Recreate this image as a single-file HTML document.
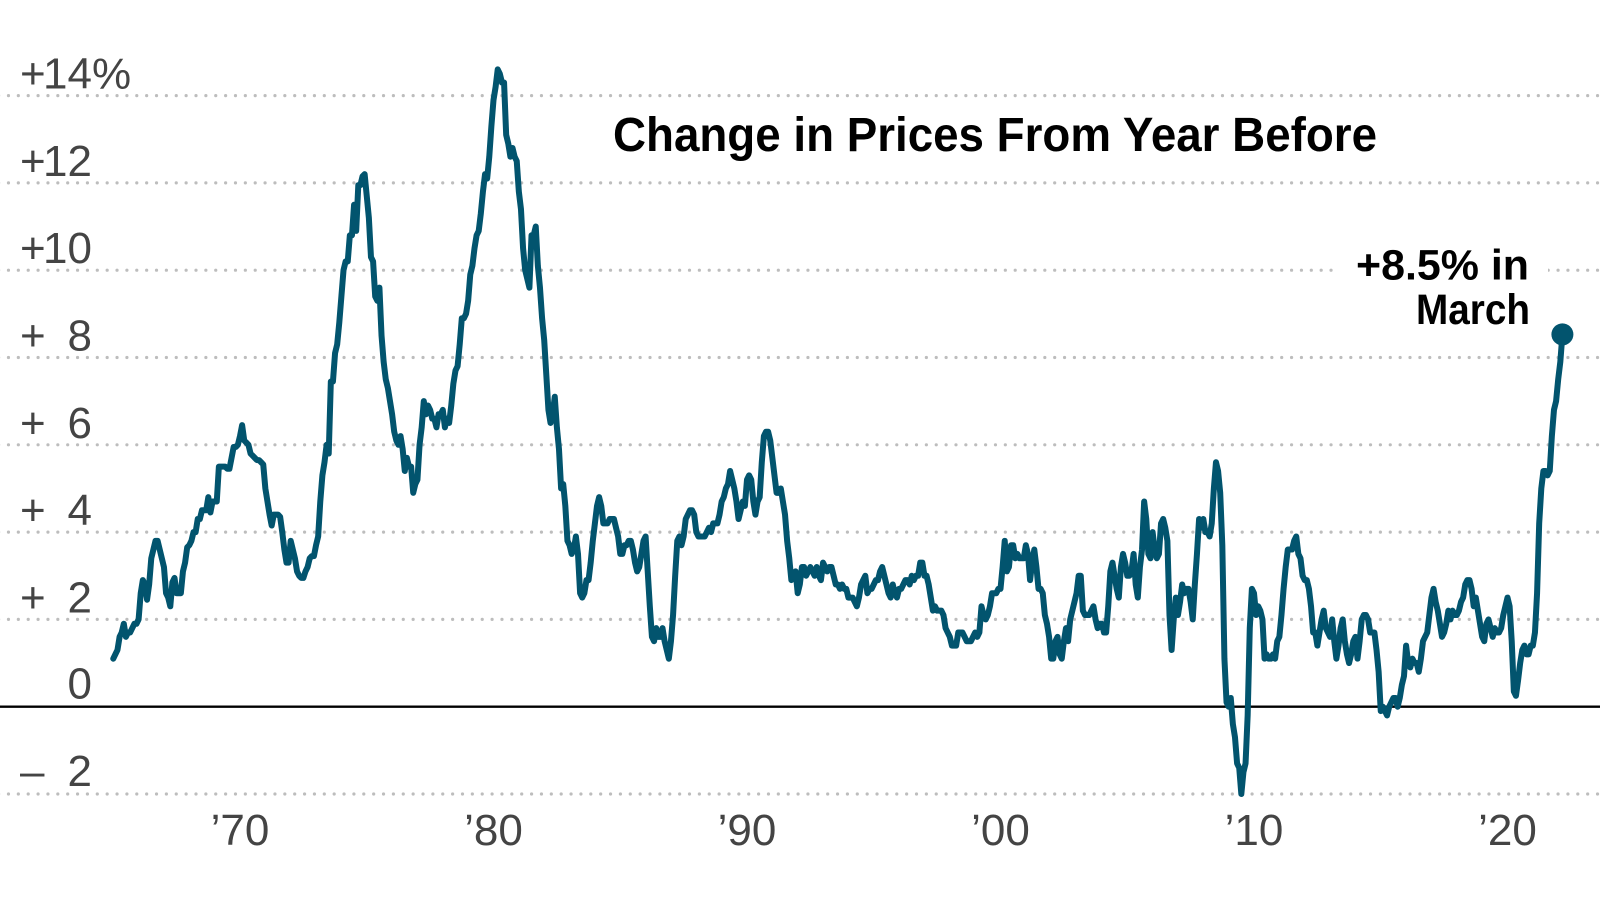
<!DOCTYPE html>
<html>
<head>
<meta charset="utf-8">
<style>
  html, body { margin: 0; padding: 0; background: #fff; }
  body { width: 1600px; height: 901px; overflow: hidden; }
  svg { display: block; }
  .ax { font-family: "Liberation Sans", Arial, sans-serif; font-size: 44px; fill: #444; }
  .bold { font-family: "Liberation Sans", Arial, sans-serif; font-weight: bold; fill: #000; }
</style>
</head>
<body>
<svg width="1600" height="901" viewBox="0 0 1600 901" xmlns="http://www.w3.org/2000/svg">
  <rect x="0" y="0" width="1600" height="901" fill="#fff"/>

  <g stroke="#bdbdbd" stroke-width="3.2" stroke-linecap="round" stroke-dasharray="0 9.87" fill="none">
    <line x1="-1.4" y1="95.6" x2="1600" y2="95.6"/>
    <line x1="-1.4" y1="182.9" x2="1600" y2="182.9"/>
    <line x1="-1.4" y1="270.2" x2="1600" y2="270.2"/>
    <line x1="-1.4" y1="357.5" x2="1600" y2="357.5"/>
    <line x1="-1.4" y1="444.8" x2="1600" y2="444.8"/>
    <line x1="-1.4" y1="532.1" x2="1600" y2="532.1"/>
    <line x1="-1.4" y1="619.4" x2="1600" y2="619.4"/>
    <line x1="-1.4" y1="794.0" x2="1600" y2="794.0"/>
  </g>

  <line x1="0" y1="706.7" x2="1600" y2="706.7" stroke="#000" stroke-width="2.4"/>

  <g class="ax">
    <text x="20" y="88.6">+</text><text x="92" y="88.6" text-anchor="end">14</text><text x="92" y="88.6">%</text>
    <text x="20" y="175.9">+</text><text x="92" y="175.9" text-anchor="end">12</text>
    <text x="20" y="263.2">+</text><text x="92" y="263.2" text-anchor="end">10</text>
    <text x="20" y="350.5">+</text><text x="92" y="350.5" text-anchor="end">8</text>
    <text x="20" y="437.8">+</text><text x="92" y="437.8" text-anchor="end">6</text>
    <text x="20" y="525.1">+</text><text x="92" y="525.1" text-anchor="end">4</text>
    <text x="20" y="612.4">+</text><text x="92" y="612.4" text-anchor="end">2</text>
    <text x="92" y="698.7" text-anchor="end">0</text>
    <text x="20" y="786.0">–</text><text x="92" y="786.0" text-anchor="end">2</text>
  </g>

  <g class="ax" text-anchor="middle">
    <text x="240" y="845">’70</text>
    <text x="493.5" y="845">’80</text>
    <text x="747" y="845">’90</text>
    <text x="1000.5" y="845">’00</text>
    <text x="1254" y="845">’10</text>
    <text x="1507.5" y="845">’20</text>
  </g>

  <text class="bold" x="613" y="151" font-size="48" textLength="764" lengthAdjust="spacingAndGlyphs">Change in Prices From Year Before</text>

  <polyline fill="none" stroke="#02546e" stroke-width="6" stroke-linejoin="round" stroke-linecap="round"
    vector-effect="non-scaling-stroke"
    transform="matrix(2.1125 0 0 -43.65 113.25 706.7)"
    points="0,1.1 1,1.2 2,1.3 3,1.6 4,1.7 5,1.9 6,1.6 7,1.7 8,1.7 9,1.8 10,1.9 11,1.9
12,2.0 13,2.6 14,2.9 15,2.8 16,2.45 17,2.8 18,3.4 19,3.6 20,3.8 21,3.8 22,3.6 23,3.4
24,3.2 25,2.6 26,2.5 27,2.3 28,2.85 29,2.95 30,2.6 31,2.6 32,2.6 33,3.1 34,3.3 35,3.65
36,3.7 37,3.8 38,4.0 39,4.0 40,4.3 41,4.3 42,4.5 43,4.5 44,4.5 45,4.8 46,4.45 47,4.7
48,4.7 49,4.7 50,5.5 51,5.5 52,5.5 53,5.5 54,5.45 55,5.45 56,5.7 57,5.95 58,5.95 59,6.0
60,6.2 61,6.45 62,6.1 63,6.05 64,6.0 65,5.8 66,5.75 67,5.7 68,5.65 69,5.65 70,5.6 71,5.55
72,5.0 73,4.7 74,4.4 75,4.15 76,4.4 77,4.4 78,4.4 79,4.35 80,4.0 81,3.6 82,3.3 83,3.3
84,3.8 85,3.6 86,3.4 87,3.1 88,3.0 89,2.95 90,2.95 91,3.1 92,3.2 93,3.4 94,3.45 95,3.45
96,3.7 97,3.9 98,4.7 99,5.3 100,5.6 101,6.0 102,5.8 103,7.45 104,7.45 105,8.1 106,8.3 107,8.8
108,9.4 109,10.0 110,10.2 111,10.2 112,10.8 113,10.8 114,11.5 115,10.9 116,11.95 117,11.95 118,12.15 119,12.2
120,11.7 121,11.2 122,10.3 123,10.2 124,9.4 125,9.3 126,9.6 127,8.5 128,7.9 129,7.5 130,7.3 131,7.0
132,6.7 133,6.3 134,6.1 135,6.0 136,6.2 137,5.9 138,5.4 139,5.7 140,5.5 141,5.5 142,4.9 143,5.1
144,5.2 145,6.0 146,6.4 147,7.0 148,6.7 149,6.9 150,6.8 151,6.6 152,6.6 153,6.4 154,6.7 155,6.7
156,6.8 157,6.4 158,6.6 159,6.5 160,6.9 161,7.4 162,7.7 163,7.8 164,8.3 165,8.9 166,8.9 167,9.0
168,9.3 169,9.9 170,10.1 171,10.5 172,10.8 173,10.9 174,11.3 175,11.8 176,12.2 177,12.1 178,12.6 179,13.3
180,13.9 181,14.2 182,14.6 183,14.5 184,14.3 185,14.3 186,13.1 187,12.9 188,12.6 189,12.8 190,12.6 191,12.5
192,11.8 193,11.4 194,10.5 195,10.0 196,9.8 197,9.6 198,10.8 199,10.8 200,11.0 201,10.1 202,9.6 203,8.9
204,8.4 205,7.6 206,6.8 207,6.5 208,6.7 209,7.1 210,6.4 211,5.9 212,5.0 213,5.1 214,4.6 215,3.8
216,3.7 217,3.5 218,3.6 219,3.9 220,3.5 221,2.6 222,2.5 223,2.6 224,2.9 225,2.9 226,3.3 227,3.8
228,4.2 229,4.6 230,4.8 231,4.6 232,4.2 233,4.2 234,4.2 235,4.3 236,4.3 237,4.3 238,4.1 239,3.9
240,3.5 241,3.5 242,3.7 243,3.7 244,3.8 245,3.8 246,3.6 247,3.3 248,3.1 249,3.2 250,3.5 251,3.8
252,3.9 253,3.1 254,2.3 255,1.6 256,1.5 257,1.8 258,1.6 259,1.6 260,1.8 261,1.5 262,1.3 263,1.1
264,1.5 265,2.1 266,3.0 267,3.8 268,3.9 269,3.7 270,3.9 271,4.3 272,4.4 273,4.5 274,4.5 275,4.4
276,4.0 277,3.9 278,3.9 279,3.9 280,3.9 281,4.0 282,4.1 283,4.0 284,4.2 285,4.2 286,4.2 287,4.4
288,4.7 289,4.8 290,5.0 291,5.1 292,5.4 293,5.2 294,5.0 295,4.7 296,4.3 297,4.5 298,4.7 299,4.6
300,5.2 301,5.3 302,5.2 303,4.7 304,4.4 305,4.7 306,4.8 307,5.6 308,6.2 309,6.3 310,6.3 311,6.1
312,5.7 313,5.3 314,4.9 315,4.9 316,5.0 317,4.7 318,4.4 319,3.8 320,3.4 321,2.9 322,3.0 323,3.1
324,2.6 325,2.8 326,3.2 327,3.2 328,3.0 329,3.1 330,3.2 331,3.1 332,3.0 333,3.2 334,3.0 335,2.9
336,3.3 337,3.2 338,3.1 339,3.2 340,3.2 341,3.0 342,2.8 343,2.8 344,2.7 345,2.8 346,2.7 347,2.7
348,2.5 349,2.5 350,2.5 351,2.4 352,2.3 353,2.5 354,2.8 355,2.9 356,3.0 357,2.6 358,2.7 359,2.7
360,2.8 361,2.9 362,2.9 363,3.1 364,3.2 365,3.0 366,2.8 367,2.6 368,2.5 369,2.8 370,2.6 371,2.5
372,2.7 373,2.7 374,2.8 375,2.9 376,2.9 377,2.8 378,3.0 379,2.9 380,3.0 381,3.0 382,3.3 383,3.3
384,3.0 385,3.0 386,2.8 387,2.5 388,2.2 389,2.3 390,2.2 391,2.2 392,2.2 393,2.1 394,1.8 395,1.7
396,1.6 397,1.4 398,1.4 399,1.4 400,1.7 401,1.7 402,1.7 403,1.6 404,1.5 405,1.5 406,1.5 407,1.6
408,1.7 409,1.6 410,1.7 411,2.3 412,2.1 413,2.0 414,2.1 415,2.3 416,2.6 417,2.6 418,2.6 419,2.7
420,2.7 421,3.2 422,3.8 423,3.1 424,3.2 425,3.7 426,3.7 427,3.4 428,3.5 429,3.4 430,3.4 431,3.4
432,3.7 433,3.5 434,2.9 435,3.3 436,3.6 437,3.2 438,2.7 439,2.7 440,2.6 441,2.1 442,1.9 443,1.6
444,1.1 445,1.1 446,1.5 447,1.6 448,1.2 449,1.1 450,1.5 451,1.8 452,1.5 453,2.0 454,2.2 455,2.4
456,2.6 457,3.0 458,3.0 459,2.2 460,2.1 461,2.1 462,2.1 463,2.2 464,2.3 465,2.0 466,1.8 467,1.9
468,1.9 469,1.7 470,1.7 471,2.3 472,3.1 473,3.3 474,3.0 475,2.7 476,2.5 477,3.2 478,3.5 479,3.3
480,3.0 481,3.0 482,3.1 483,3.5 484,2.8 485,2.5 486,3.2 487,3.6 488,4.7 489,4.3 490,3.5 491,3.4
492,4.0 493,3.6 494,3.4 495,3.5 496,4.2 497,4.3 498,4.1 499,3.8 500,2.1 501,1.3 502,2.0 503,2.5
504,2.1 505,2.4 506,2.8 507,2.6 508,2.7 509,2.7 510,2.4 511,2.0 512,2.8 513,3.5 514,4.3 515,4.1
516,4.3 517,4.0 518,4.0 519,3.9 520,4.2 521,5.0 522,5.6 523,5.4 524,4.9 525,3.7 526,1.1 527,0.1
528,0.0 529,0.2 530,-0.4 531,-0.7 532,-1.3 533,-1.4 534,-2.0 535,-1.5 536,-1.3 537,-0.2 538,1.8 539,2.7
540,2.6 541,2.1 542,2.3 543,2.2 544,2.0 545,1.1 546,1.2 547,1.1 548,1.1 549,1.2 550,1.1 551,1.5
552,1.6 553,2.1 554,2.7 555,3.2 556,3.6 557,3.6 558,3.6 559,3.8 560,3.9 561,3.5 562,3.4 563,3.0
564,2.9 565,2.9 566,2.7 567,2.3 568,1.7 569,1.7 570,1.4 571,1.7 572,2.0 573,2.2 574,1.8 575,1.7
576,1.6 577,2.0 578,1.5 579,1.1 580,1.4 581,1.8 582,2.0 583,1.5 584,1.2 585,1.0 586,1.2 587,1.5
588,1.6 589,1.1 590,1.5 591,2.0 592,2.1 593,2.1 594,2.0 595,1.7 596,1.7 597,1.7 598,1.3 599,0.8
600,-0.1 601,0.0 602,-0.1 603,-0.2 604,0.0 605,0.1 606,0.2 607,0.2 608,0.0 609,0.2 610,0.5 611,0.7
612,1.4 613,1.0 614,0.9 615,1.1 616,1.0 617,1.0 618,0.8 619,1.1 620,1.5 621,1.6 622,1.7 623,2.1
624,2.5 625,2.7 626,2.4 627,2.2 628,1.9 629,1.6 630,1.7 631,1.9 632,2.2 633,2.0 634,2.2 635,2.1
636,2.1 637,2.2 638,2.4 639,2.5 640,2.8 641,2.9 642,2.9 643,2.7 644,2.3 645,2.5 646,2.2 647,1.9
648,1.6 649,1.5 650,1.9 651,2.0 652,1.8 653,1.6 654,1.8 655,1.7 656,1.7 657,1.8 658,2.1 659,2.3
660,2.5 661,2.3 662,1.5 663,0.35 664,0.25 665,0.6 666,1.0 667,1.3 668,1.4 669,1.2 670,1.2 671,1.4
672,1.4 673,1.7 674,2.6 675,4.2 676,5.0 677,5.4 678,5.4 679,5.3 680,5.4 681,6.2 682,6.8 683,7.0
684,7.5 685,7.9 686,8.53"/>

  <circle cx="1562.4" cy="334.4" r="11" fill="#02546e"/>

  <rect x="1336" y="262" width="212" height="16" fill="#fff"/>
  <text class="bold" x="1356" y="279.3" font-size="43" textLength="173" lengthAdjust="spacingAndGlyphs">+8.5% in</text>
  <text class="bold" x="1416" y="324" font-size="43" textLength="114" lengthAdjust="spacingAndGlyphs">March</text>
</svg>
</body>
</html>
